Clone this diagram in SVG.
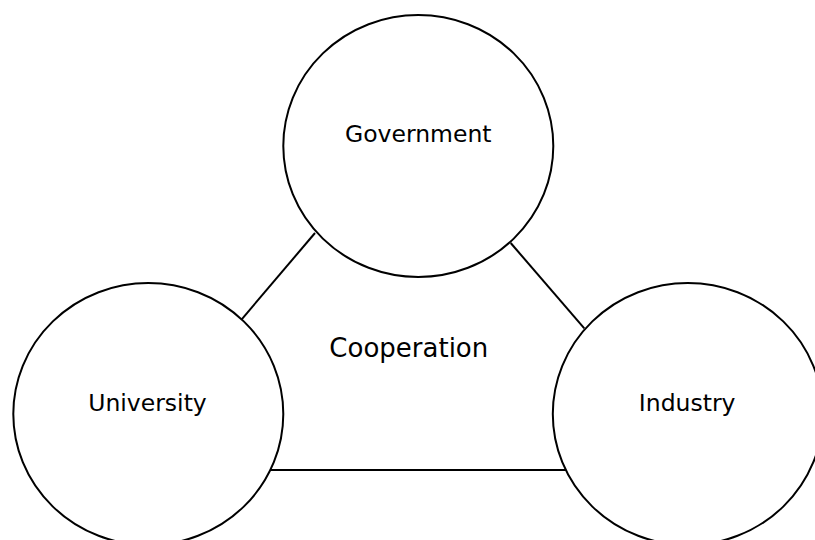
<svg xmlns="http://www.w3.org/2000/svg" width="815" height="540" viewBox="0 0 815 540">
<style>
.node{fill:#fff;stroke:#000;stroke-width:2}
.lbl{font-family:"DejaVu Sans",Verdana,sans-serif;font-size:23.5px;fill:#000;text-anchor:middle}
.conn line{stroke:#000;stroke-width:2}
</style>
<rect width="815" height="540" fill="#fff"/>
<g id="connectors" class="conn">
<line x1="315" y1="233" x2="241.7" y2="319.3"/>
<line x1="510.7" y1="243" x2="584.3" y2="328.3"/>
<line x1="268" y1="470" x2="566" y2="470"/>
</g>
<g id="government"><ellipse class="node" cx="418.3" cy="146" rx="135" ry="131"/><text class="lbl" x="418.3" y="142">Government</text></g>
<g id="university"><ellipse class="node" cx="148.3" cy="414" rx="135" ry="131"/><text class="lbl" x="147.5" y="410.7">University</text></g>
<g id="industry"><ellipse class="node" cx="687.8" cy="414" rx="135" ry="131"/><text class="lbl" x="687.2" y="410.7">Industry</text></g>
<text id="cooperation" class="lbl" x="408.8" y="356.7" style="font-size:26px">Cooperation</text>
</svg>
